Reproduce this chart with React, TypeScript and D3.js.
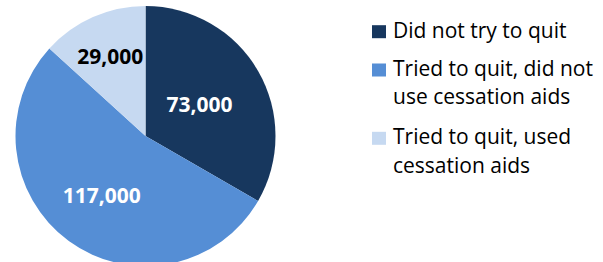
import React from "react";
import * as d3 from "d3";

const categories = [
  ["Did not try to quit"],
  ["Tried to quit, did not", "use cessation aids"],
  ["Tried to quit, used", "cessation aids"],
];
const values = [73000, 117000, 29000];
const labels = ["73,000", "117,000", "29,000"];
const colors = ["#17375E", "#558ED5", "#C6D9F1"];
const labelColors = ["#FFFFFF", "#FFFFFF", "#000000"];

const App = () => {
  const width = 603, height = 262;
  const cx = 145.5, cy = 136, r = 130;
  // how far out along each slice's middle its label sits, as a share of the radius
  const labelPos = [0.48, 0.57, 0.67];

  const pie = d3.pie<number>().sort(null).value(d => d);
  const arcs = pie(values);
  const arc = d3.arc<d3.PieArcDatum<number>>().innerRadius(0).outerRadius(r);

  const legendX = 372;
  const baselines = [37.7, 76, 144.3];
  const lineH = 28.4;

  return (
    <svg width={width} height={height} style={{ position: "absolute", left: 0, top: 0 }}
      fontFamily="'Open Sans', sans-serif">
      <g transform={`translate(${cx},${cy})`}>
        {arcs.map((a, i) => (
          <path key={i} d={arc(a) || ""} fill={colors[i]} />
        ))}
        {arcs.map((a, i) => {
          const la = d3.arc<d3.PieArcDatum<number>>()
            .innerRadius(r * labelPos[i]).outerRadius(r * labelPos[i]);
          const [x, y] = la.centroid(a);
          return (
            <text key={i} x={x} y={y} textAnchor="middle" dy="0.35em"
              fontSize={21} fontWeight="bold" fill={labelColors[i]}>
              {labels[i]}
            </text>
          );
        })}
      </g>
      {categories.map((lines, i) => (
        <g key={i}>
          <rect x={legendX} y={baselines[i] - 12.5} width={14} height={13} fill={colors[i]} />
          {lines.map((t, j) => (
            <text key={j} x={legendX + 21} y={baselines[i] + j * lineH}
              fontSize={21} fill="#000">
              {t}
            </text>
          ))}
        </g>
      ))}
    </svg>
  );
};

export default App;
